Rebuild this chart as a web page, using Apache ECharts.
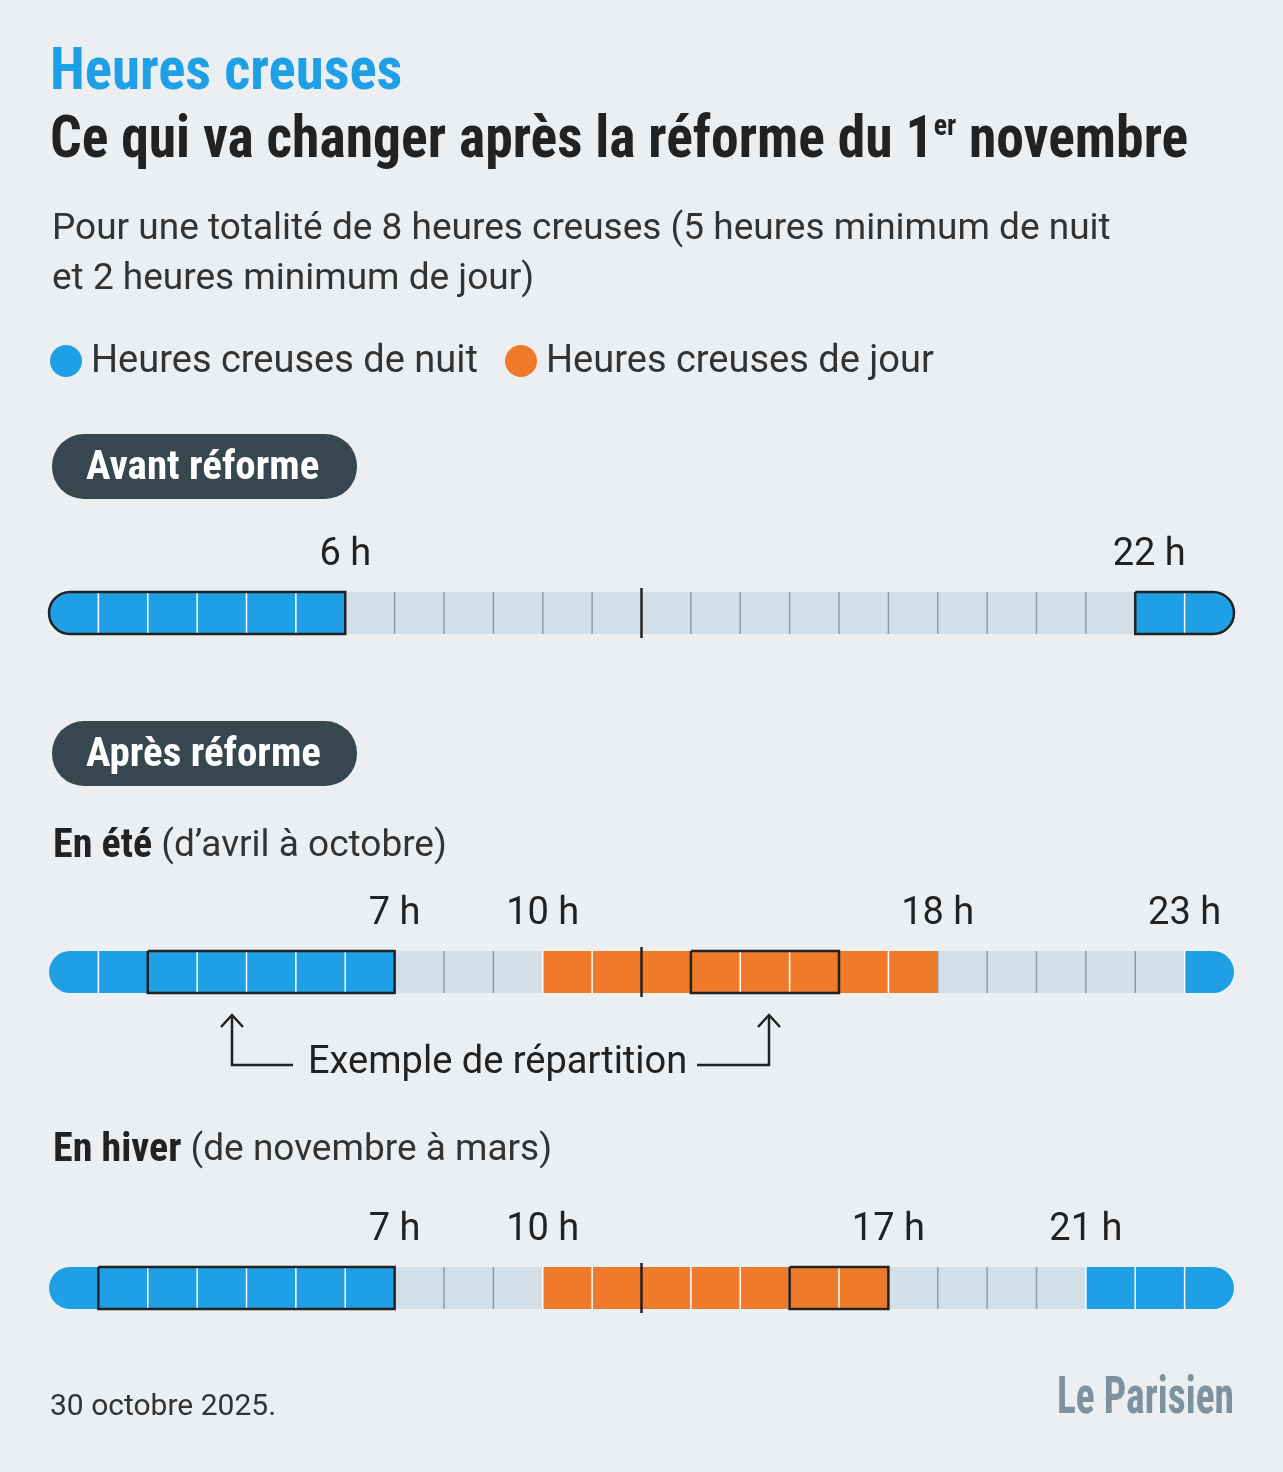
<!DOCTYPE html>
<html><head><meta charset="utf-8">
<script src="https://cdn.jsdelivr.net/npm/echarts@6/dist/echarts.min.js"></script>
<style>html,body{margin:0;padding:0;background:#eceff2}#c{width:1283px;height:1472px}</style>
</head><body><div id="c"></div>
<script>
// Hour type per row: n = night off-peak, j = day off-peak, p = peak
const avantNight = [[0,6],[22,24]];
const avantDay = [];
const eteNight = [[0,7],[23,24]];
const eteDay = [[10,18]];
const hiverNight = [[0,7],[21,24]];
const hiverDay = [[10,17]];
// example boxes
const avantBoxes = [[0,6],[22,24]];
const eteBoxes = [[2,7],[13,16]];
const hiverBoxes = [[1,7],[15,17]];
// tick labels [hour, text]
const avantTicks = [[6,'6 h'],[22,'22 h']];
const eteTicks = [[7,'7 h'],[10,'10 h'],[18,'18 h'],[23,'23 h']];
const hiverTicks = [[7,'7 h'],[10,'10 h'],[17,'17 h'],[21,'21 h']];

const rowsY = [613, 972, 1288];
const H = 42;
const BLUE='#1fa0e6', ORANGE='#ef7a2a', GRAY='#d3dfe8';
function typeAt(h, night, day){
  for(const s of night) if(h>=s[0]&&h<s[1]) return 'n';
  for(const s of day) if(h>=s[0]&&h<s[1]) return 'j';
  return 'p';
}
const rows=[[avantNight,avantDay],[eteNight,eteDay],[hiverNight,hiverDay]];
const cells=[];
rows.forEach((r,i)=>{for(let h=0;h<24;h++) cells.push([h,h+1,rowsY[i],typeAt(h,r[0],r[1])]);});
const boxes=[];
[avantBoxes,eteBoxes,hiverBoxes].forEach((b,i)=>b.forEach(s=>boxes.push([s[0],s[1],rowsY[i]])));
const ticks=[];
[avantTicks,eteTicks,hiverTicks].forEach((t,i)=>t.forEach(s=>ticks.push([s[0],rowsY[i]-58,s[1]])));
const COND="'Liberation Sans Narrow','Roboto Condensed','Roboto',sans-serif";
const REG="'Roboto','Noto Sans',sans-serif";

const chart=echarts.init(document.getElementById('c'));
function cellItem(p,api){
  const a=api.coord([api.value(0),api.value(2)]), b=api.coord([api.value(1),api.value(2)]);
  const t=cells[p.dataIndex][3]; const h0=api.value(0);
  const fill=t==='n'?BLUE:t==='j'?ORANGE:GRAY;
  const r=[h0===0?H/2:0,h0===23?H/2:0,h0===23?H/2:0,h0===0?H/2:0];
  const children=[{type:'rect',shape:{x:a[0],y:a[1]-H/2,width:b[0]-a[0],height:H,r:r},style:{fill:fill}}];
  if(h0>0){
    const isMid=h0===12;
    children.push({type:'line',shape:{x1:a[0],y1:a[1]-(isMid?H/2+4:H/2),x2:a[0],y2:a[1]+(isMid?H/2+4:H/2)},style:{stroke:isMid?'#222':(t==='p'?'#8d9ba7':'#ffffff'),lineWidth:isMid?2.5:1.5}});
  }
  return {type:'group',children:children};
}
function boxItem(p,api){
  const a=api.coord([api.value(0),api.value(2)]), b=api.coord([api.value(1),api.value(2)]);
  const s=api.value(0), e=api.value(1);
  const r=[s===0?H/2:0,e===24?H/2:0,e===24?H/2:0,s===0?H/2:0];
  return {type:'rect',shape:{x:a[0],y:a[1]-H/2,width:b[0]-a[0],height:H,r:r},style:{fill:'none',stroke:'#222',lineWidth:2.5}};
}
function tickItem(p,api){
  const a=api.coord([api.value(0),api.value(1)]);
  const txt=ticks[p.dataIndex][2];
  return {type:'text',x:a[0]+(txt==='22 h'?14:0),y:a[1],style:{text:txt,fill:'#222',font:'38px '+REG,align:'center',verticalAlign:'middle'}};
}
const pill=(y,txt)=>({type:'group',children:[
  {type:'rect',shape:{x:52,y:y,width:305,height:65,r:32},style:{fill:'#37474f'}},
  {type:'text',x:86,y:y+35,style:{text:txt,fill:'#fff',font:'bold 41px '+COND,verticalAlign:'middle'}}]});
chart.setOption({
  animation:false,
  backgroundColor:'#eceff2',
  grid:{left:49,right:49,top:0,bottom:0},
  xAxis:{type:'value',min:0,max:24,show:false},
  yAxis:{type:'value',min:0,max:1472,inverse:true,show:false},
  series:[
    {type:'custom',renderItem:cellItem,data:cells.map(c=>[c[0],c[1],c[2]]),z:2},
    {type:'custom',renderItem:boxItem,data:boxes,z:3},
    {type:'custom',renderItem:tickItem,data:ticks.map(t=>[t[0],t[1]]),z:3}
  ],
  graphic:[
    {type:'text',x:50,y:44,scaleX:0.946,style:{text:'Heures creuses',fill:'#1fa0e6',font:'bold 60px '+COND}},
    {type:'text',x:50,y:112,scaleX:0.927,style:{text:'{a|Ce qui va changer après la réforme du 1}{s|er}{a| novembre}',rich:{a:{font:'bold 60px '+COND,fill:'#222'},s:{font:'bold 30px '+COND,fill:'#222',verticalAlign:'top',padding:[0,0,26,0]}}}},
    {type:'text',left:52,top:205,style:{text:'Pour une totalité de 8 heures creuses (5 heures minimum de nuit\net 2 heures minimum de jour)',fill:'#333',font:'37px '+REG,lineHeight:50}},
    {type:'circle',shape:{cx:66,cy:361,r:16},style:{fill:BLUE}},
    {type:'text',left:91,top:343,style:{text:'Heures creuses de nuit',fill:'#333',font:'38px '+REG}},
    {type:'circle',shape:{cx:521,cy:361,r:16},style:{fill:ORANGE}},
    {type:'text',left:546,top:343,style:{text:'Heures creuses de jour',fill:'#333',font:'38px '+REG}},
    pill(434,'Avant réforme'),
    pill(721,'Après réforme'),
    {type:'text',left:53,top:827,style:{text:'{b|En été}{r| (d’avril à octobre)}',rich:{b:{font:'bold 40px '+COND,fill:'#222'},r:{font:'37px '+REG,fill:'#333'}}}},
    {type:'text',left:53,top:1131,style:{text:'{b|En hiver}{r| (de novembre à mars)}',rich:{b:{font:'bold 40px '+COND,fill:'#222'},r:{font:'37px '+REG,fill:'#333'}}}},
    {type:'polyline',shape:{points:[[232,1015],[232,1065],[293,1065]]},style:{stroke:'#222',lineWidth:2.5,fill:'none'}},
    {type:'polyline',shape:{points:[[221,1027],[232,1015],[243,1027]]},style:{stroke:'#222',lineWidth:2.5,fill:'none'}},
    {type:'polyline',shape:{points:[[697,1065],[769,1065],[769,1015]]},style:{stroke:'#222',lineWidth:2.5,fill:'none'}},
    {type:'polyline',shape:{points:[[758,1027],[769,1015],[780,1027]]},style:{stroke:'#222',lineWidth:2.5,fill:'none'}},
    {type:'text',left:308,top:1044,style:{text:'Exemple de répartition',fill:'#222',font:'38px '+REG}},
    {type:'text',left:50,top:1392,style:{text:'30 octobre 2025.',fill:'#333',font:'30px '+REG}},
    {type:'text',x:1234,y:1374,scaleX:0.76,style:{text:'Le Parisien',align:'right',fill:'#7d929e',font:'bold 52px '+COND}}
  ]
});
</script></body></html>
